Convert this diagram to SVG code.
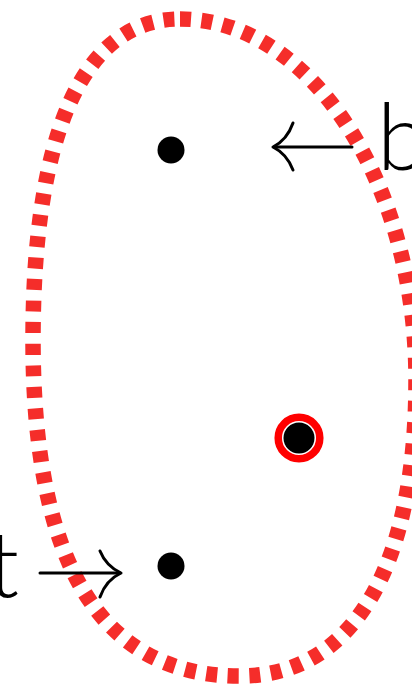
<svg xmlns="http://www.w3.org/2000/svg" width="412" height="686" viewBox="0 0 412 686">
<style>
.region{fill:none;stroke:#f52d2a;stroke-width:15.5;stroke-dasharray:11 10.5}
.dot{fill:#000}
.arrow{fill:none;stroke:#000;stroke-width:3;stroke-linecap:round;stroke-linejoin:round}
.lbl{font-family:Lato,"Liberation Sans",sans-serif;font-weight:300;font-size:92px;fill:#000}
</style>
<rect width="412" height="686" fill="#fff"/>
<g id="region">
<path class="region" d="M180,19 C310,19 416,181 416,380 C416,566 354,676 240,676 C101,676 33,565 33,340 C33,131 84,19 180,19 Z"/>
</g>
<g id="node-top">
<circle class="dot" cx="171" cy="150" r="13.5"/>
</g>
<g id="node-bottom">
<circle class="dot" cx="171" cy="566" r="13.5"/>
</g>
<g id="node-marked">
<circle cx="299" cy="438" r="20.8" fill="#fff" stroke="#ff0000" stroke-width="7.5"/>
<circle class="dot" cx="299" cy="438" r="15.5"/>
</g>
<g id="connectors">
<g id="arrow-b">
<path class="arrow" d="M352,147 L274,147"/>
<path class="arrow" d="M293,123 Q287,140 273,147 Q287,154 293,170"/>
</g>
<g id="arrow-t">
<path class="arrow" d="M40,573 L120,573"/>
<path class="arrow" d="M100,551 Q106,566 121,573 Q106,580 100,597"/>
</g>
</g>
<g id="label-b"><text class="lbl" x="377" y="170">b</text></g>
<g id="label-t"><text class="lbl" x="19" y="597" text-anchor="end">t</text></g>
</svg>
